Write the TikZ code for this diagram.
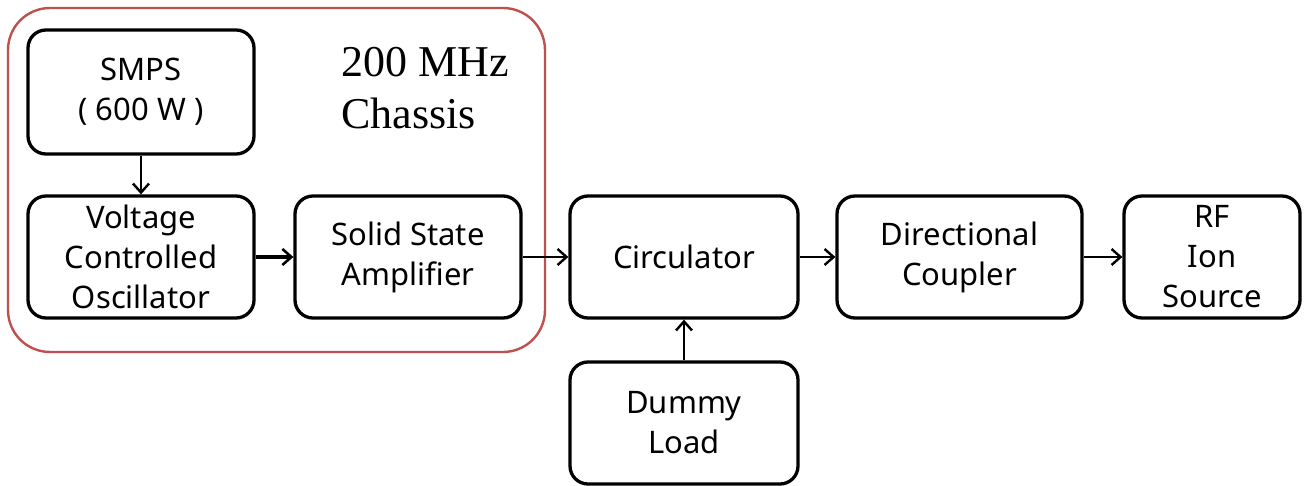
\documentclass[tikz,border=0pt]{standalone}
\usepackage{fontspec}
\setmainfont{Noto Sans}
\newfontfamily\serifx{Liberation Serif}
\usetikzlibrary{arrows.meta}
\definecolor{chassisred}{RGB}{192,80,77}
\begin{document}
\begin{tikzpicture}[x=1pt,y=-1pt,
  blk/.style={draw=black,line width=3.3pt,rounded corners=18pt,align=center,
    font=\fontsize{31}{40}\selectfont,inner sep=0pt},
  conn/.style={line width=2.4pt,-{Straight Barb[length=9pt,width=16pt,line width=2.4pt]}},
  connb/.style={line width=3.6pt,-{Straight Barb[length=9pt,width=16pt,line width=2.6pt]}}]
\useasboundingbox (0,0) rectangle (1305,486);
\draw[chassisred,line width=2.4pt,rounded corners=42pt] (8,8) rectangle (545,352);
\node[blk,minimum width=226pt,minimum height=124pt] (smps) at (141,92) {SMPS\\( 600 W )};
\node[blk,minimum width=226pt,minimum height=122pt] (vco) at (141,257) {Voltage\\Controlled\\Oscillator};
\node[blk,minimum width=226pt,minimum height=122pt] (ssa) at (408,257) {Solid State\\Amplifier};
\node[blk,minimum width=228pt,minimum height=122pt] (circ) at (684,257) {Circulator};
\node[blk,minimum width=245pt,minimum height=122pt] (dc) at (959.5,257) {Directional\\Coupler};
\node[blk,minimum width=176pt,minimum height=122pt] (rf) at (1212,257) {RF\\Ion\\Source};
\node[blk,minimum width=228pt,minimum height=122pt] (dummy) at (684,423) {Dummy\\Load};
\node[align=left,anchor=north west,font=\serifx\fontsize{44}{52}\selectfont,inner sep=0pt] (title) at (341,47) {200 MHz\\Chassis};
\draw[conn] (smps.south) -- (vco.north);
\draw[connb] (vco.east) -- (ssa.west);
\draw[conn] (ssa.east) -- (circ.west);
\draw[conn] (circ.east) -- (dc.west);
\draw[conn] (dc.east) -- (rf.west);
\draw[conn] (dummy.north) -- (circ.south);
\end{tikzpicture}
\end{document}
